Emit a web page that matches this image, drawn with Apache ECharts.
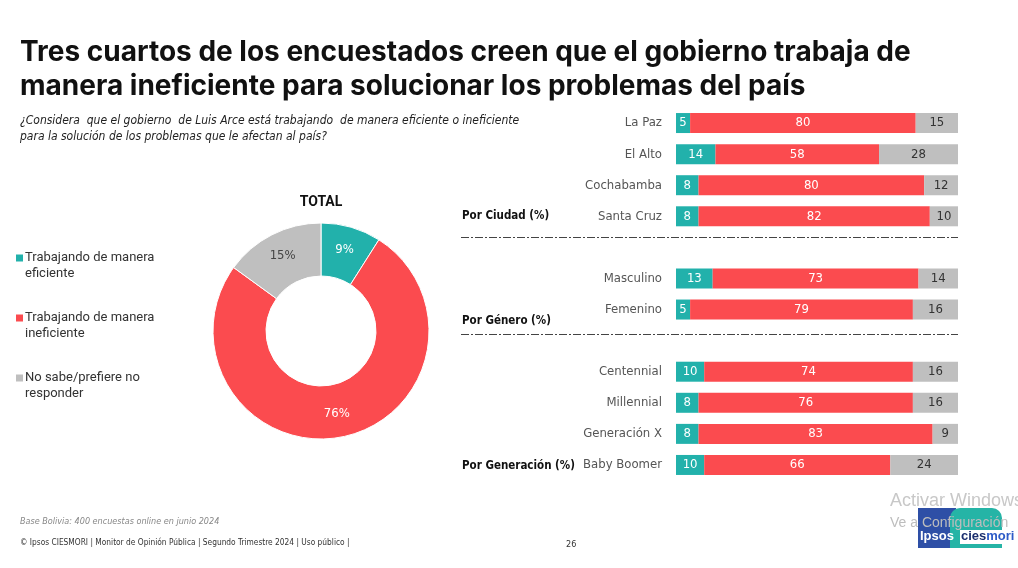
<!DOCTYPE html>
<html>
<head>
<meta charset="utf-8">
<script src="https://cdn.jsdelivr.net/npm/echarts@6/dist/echarts.min.js"></script>
<style>
html,body{margin:0;padding:0;background:#fff;}
#c{width:1018px;height:568px;}
</style>
</head>
<body>
<div id="c"></div>
<script>
// ---- data ----
const seriesNames = ['Trabajando de manera eficiente', 'Trabajando de manera ineficiente', 'No sabe/prefiere no responder'];
const legendLabels = ['Trabajando de manera\neficiente', 'Trabajando de manera\nineficiente', 'No sabe/prefiere no\nresponder'];
const totalValues = [9, 76, 15];
const categories = ['La Paz', 'El Alto', 'Cochabamba', 'Santa Cruz', ' ', 'Masculino', 'Femenino', '  ', 'Centennial', 'Millennial', 'Generación X', 'Baby Boomer'];
const eficiente   = [5, 14, 8, 8, null, 13, 5, null, 10, 8, 8, 10];
const ineficiente = [80, 58, 80, 82, null, 73, 79, null, 74, 76, 83, 66];
const noSabe      = [15, 28, 12, 10, null, 14, 16, null, 16, 16, 9, 24];
const groupLabels = ['Por Ciudad (%)', 'Por Género (%)', 'Por Generación (%)'];
const colors = ['#22B1AB', '#FB4B4F', '#BFBFBF'];

const condensed = "'Liberation Sans Narrow', 'DejaVu Sans Condensed', Roboto, sans-serif";

const chart = echarts.init(document.getElementById('c'), null, {renderer: 'canvas'});

function barSeries(name, data, idx, labelColor) {
  return {
    name: name, type: 'bar', stack: 'all', xAxisIndex: 0, yAxisIndex: 0,
    data: data, barWidth: 20,
    itemStyle: {color: colors[idx]},
    label: {show: true, position: 'inside', color: labelColor, fontFamily: condensed, fontSize: 13,
      formatter: p => p.value == null ? '' : String(p.value)},
    emphasis: {disabled: true}
  };
}

// legend drawn as graphic items (square aligned to first text line)
const legendGraphics = [];
legendLabels.forEach((t, i) => {
  const y = 258 + i * 60;
  legendGraphics.push({type: 'rect', shape: {x: 16, y: y - 3.5, width: 7, height: 7}, style: {fill: colors[i]}});
  legendGraphics.push({type: 'text', x: 25, y: y - 8, style: {text: t, font: "13px Roboto, sans-serif", fill: '#333', lineHeight: 16}});
});

const option = {
  animation: false,
  backgroundColor: '#fff',
  color: colors,
  grid: {left: 676, right: 60, top: 107.5, height: 373, containLabel: false},
  xAxis: {type: 'value', min: 0, max: 100, show: false},
  yAxis: {
    type: 'category', data: categories, inverse: true,
    axisLine: {show: false}, axisTick: {show: false}, splitLine: {show: false},
    axisLabel: {color: '#555', fontFamily: condensed, fontSize: 13, margin: 14}
  },
  series: [
    barSeries(seriesNames[0], eficiente, 0, '#fff'),
    barSeries(seriesNames[1], ineficiente, 1, '#fff'),
    barSeries(seriesNames[2], noSabe, 2, '#333'),
    {
      name: 'TOTAL', type: 'pie', center: [321, 331], radius: [55, 108],
      startAngle: 90, clockwise: true, silent: true,
      data: seriesNames.map((n, i) => ({name: n, value: totalValues[i], itemStyle: {color: colors[i]},
        label: {color: i === 2 ? '#444' : '#fff'}})),
      itemStyle: {borderColor: '#fff', borderWidth: 1},
      label: {show: true, position: 'inside', formatter: '{c}%', fontFamily: condensed, fontSize: 13},
      labelLine: {show: false},
      emphasis: {disabled: true}
    }
  ],
  graphic: legendGraphics.concat([
    {type: 'text', left: 20, top: 36, style: {text: 'Tres cuartos de los encuestados creen que el gobierno trabaja de\nmanera ineficiente para solucionar los problemas del país',
      font: "bold 28px Inter, 'Liberation Sans', sans-serif", fill: '#111', lineHeight: 34}},
    {type: 'text', left: 20, top: 113, style: {text: '¿Considera  que el gobierno  de Luis Arce está trabajando  de manera eficiente o ineficiente\npara la solución de los problemas que le afectan al país?',
      font: "italic 12px " + condensed, fill: '#222', lineHeight: 16}},
    {type: 'text', x: 321, y: 202, style: {text: 'TOTAL', font: "bold 14px Roboto, sans-serif", fill: '#111', textAlign: 'center', textVerticalAlign: 'middle'}},
    {type: 'text', x: 462, y: 216, style: {text: groupLabels[0], font: "bold 11.5px " + condensed, fill: '#111', textVerticalAlign: 'middle'}},
    {type: 'text', x: 462, y: 321, style: {text: groupLabels[1], font: "bold 11.5px " + condensed, fill: '#111', textVerticalAlign: 'middle'}},
    {type: 'text', x: 462, y: 466, style: {text: groupLabels[2], font: "bold 11.5px " + condensed, fill: '#111', textVerticalAlign: 'middle'}},
    {type: 'line', shape: {x1: 461, y1: 237.5, x2: 958, y2: 237.5}, style: {stroke: '#444', lineWidth: 1, lineDash: [8, 2, 2, 2]}},
    {type: 'line', shape: {x1: 461, y1: 334.5, x2: 958, y2: 334.5}, style: {stroke: '#444', lineWidth: 1, lineDash: [8, 2, 2, 2]}},
    {type: 'text', left: 20, top: 517, style: {text: 'Base Bolivia: 400 encuestas online en junio 2024', font: "italic 9px " + condensed, fill: '#888'}},
    {type: 'text', left: 20, top: 539, style: {text: '© Ipsos CIESMORI | Monitor de Opinión Pública | Segundo Trimestre 2024 | Uso público |', font: "8.3px " + condensed, fill: '#333'}},
    {type: 'text', left: 566, top: 540, style: {text: '26', font: "9px " + condensed, fill: '#333'}},
    // watermark
    {type: 'text', left: 890, top: 492, style: {text: 'Activar Windows', font: "18px 'Liberation Sans', sans-serif", fill: '#c8c8c8'}},
    // logo
    {type: 'rect', shape: {x: 918, y: 508, width: 38, height: 40}, style: {fill: '#2E4FA6'}},
    {type: 'rect', shape: {x: 950, y: 508, width: 52, height: 40, r: [10, 10, 0, 0]}, style: {fill: '#25B4A6'}},
    {type: 'rect', shape: {x: 960, y: 530, width: 52, height: 14}, style: {fill: '#fff'}},
    {type: 'text', left: 890, top: 516, style: {text: 'Ve a Configuración', font: "14px 'Liberation Sans', sans-serif", fill: '#bdbdbd'}, z: 10},
    {type: 'text', left: 920, top: 530, style: {text: 'Ipsos', font: "bold 13px 'Liberation Sans', sans-serif", fill: '#fff'}},
    {type: 'text', left: 961, top: 530, style: {text: '{a|cies}{b|mori}', rich: {a: {font: "bold 13px 'Liberation Sans', sans-serif", fill: '#1B2E6E'}, b: {font: "bold 13px 'Liberation Sans', sans-serif", fill: '#2E5BC7'}}}}
  ])
};
chart.setOption(option);
</script>
</body>
</html>
